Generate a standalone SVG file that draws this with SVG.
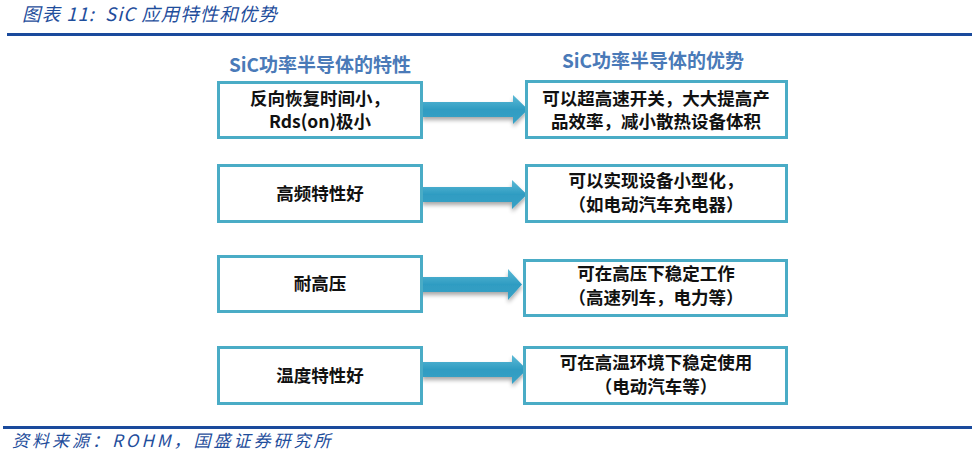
<svg xmlns="http://www.w3.org/2000/svg" width="972" height="455" viewBox="0 0 972 455">
<defs>
<linearGradient id="ag" x1="0" y1="0" x2="0" y2="1">
<stop offset="0" stop-color="#5cbad6"/>
<stop offset="0.5" stop-color="#2f9cc2"/>
<stop offset="1" stop-color="#3aa2c6"/>
</linearGradient>
<filter id="sh" x="-10%" y="-30%" width="130%" height="180%">
<feGaussianBlur in="SourceAlpha" stdDeviation="2"/>
<feOffset dx="0" dy="3" result="b"/>
<feComponentTransfer><feFuncA type="linear" slope="0.35"/></feComponentTransfer>
<feMerge><feMergeNode/><feMergeNode in="SourceGraphic"/></feMerge>
</filter>
</defs>
<style>
.box{fill:#fff;stroke:#4aacc6;stroke-width:3}
.t{font-family:"Noto Sans CJK SC","Liberation Sans",sans-serif;font-weight:bold;font-size:17.5px;fill:#111;text-anchor:middle}
.h{font-family:"Noto Sans CJK SC","Liberation Sans",sans-serif;font-weight:bold;font-size:19px;fill:#4a7ab8;text-anchor:middle}
.cap{font-family:"Noto Sans CJK SC","Liberation Sans",sans-serif;font-style:italic;fill:#1f4e9c}
.arr{fill:url(#ag);filter:url(#sh)}
</style>
<rect width="972" height="455" fill="#fff"/>
<text class="cap" x="22" y="21" font-size="18.5" letter-spacing="1" xml:space="preserve">图表 11:  SiC 应用特性和优势</text>
<rect x="7" y="33" width="965" height="3" fill="#1a4a9c"/>
<rect x="3" y="426" width="969" height="3" fill="#1a4a9c"/>
<text class="cap" x="12" y="447" font-size="17" letter-spacing="3">资料来源：ROHM，国盛证券研究所</text>

<text class="h" x="320" y="72">SiC功率半导体的特性</text>
<text class="h" x="653" y="68">SiC功率半导体的优势</text>

<g id="connectors">
<path class="arr" d="M422,102 H513 V95 L528,109.5 L513,124 V117 H422 Z"/>
<path class="arr" d="M422,187 H512 V180 L527,194.5 L512,209 V202 H422 Z"/>
<path class="arr" d="M416,277 H508 V269 L522,284.5 L508,300 V292 H416 Z"/>
<path class="arr" d="M422,362 H512 V355 L527,369.5 L512,384 V377 H422 Z"/>
</g>

<g id="n1"><rect class="box" x="218.5" y="82.5" width="203" height="55"/>
<text class="t" x="320" y="105">反向恢复时间小，</text><text class="t" x="320" y="128">Rds(on)极小</text></g>
<g id="a1"><rect class="box" x="526.5" y="81.5" width="260" height="56"/>
<text class="t" x="656" y="105">可以超高速开关，大大提高产</text><text class="t" x="656" y="128">品效率，减小散热设备体积</text></g>

<g id="n2"><rect class="box" x="218.5" y="165.5" width="203" height="56"/>
<text class="t" x="320" y="200">高频特性好</text></g>
<g id="a2"><rect class="box" x="526.5" y="165.5" width="260" height="56"/>
<text class="t" x="656" y="187">可以实现设备小型化，</text><text class="t" x="656" y="211">（如电动汽车充电器）</text></g>

<g id="n3"><rect class="box" x="218.5" y="256.5" width="203" height="55"/>
<text class="t" x="320" y="290">耐高压</text></g>
<g id="a3"><rect class="box" x="524.5" y="260.5" width="262" height="55"/>
<text class="t" x="656" y="280">可在高压下稳定工作</text><text class="t" x="656" y="304">（高速列车，电力等）</text></g>

<g id="n4"><rect class="box" x="218.5" y="347.5" width="203" height="56"/>
<text class="t" x="320" y="382">温度特性好</text></g>
<g id="a4"><rect class="box" x="524.5" y="347.5" width="262" height="56"/>
<text class="t" x="656" y="369">可在高温环境下稳定使用</text><text class="t" x="656" y="393">（电动汽车等）</text></g>
</svg>
